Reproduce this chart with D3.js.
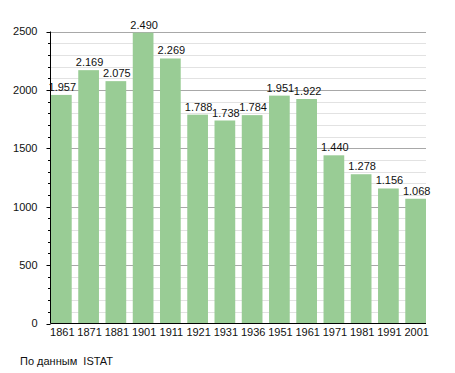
<!DOCTYPE html>
<html>
<head>
<meta charset="utf-8">
<script src="https://cdn.jsdelivr.net/npm/d3@7"></script>
<style>
  body { margin: 0; background: #fff; }
  svg text { font-family: "Liberation Sans", Arial, sans-serif; }
</style>
</head>
<body>
<div class="bar-chart-container"></div>
<script>
const years = ['1861','1871','1881','1901','1911','1921','1931','1936','1951','1961','1971','1981','1991','2001'];
const population = [1957, 2169, 2075, 2490, 2269, 1788, 1738, 1784, 1951, 1922, 1440, 1278, 1156, 1068];
const yTicks = [0, 500, 1000, 1500, 2000, 2500];
const sourceNote = 'По данным  ISTAT';

const fmt = d => d3.format(',')(d).replace(',', '.');

function setupCanvas(){
    const svg_width = 455;
    const svg_height = 373;
    const left = 50.5, right = 426, top = 31.5, bottom = 323.5;

    const svg = d3.select('.bar-chart-container')
                  .append('svg')
                  .attr('width', svg_width)
                  .attr('height', svg_height);

    const xScale = d3.scaleBand().domain(years).range([51, 426]).paddingInner(0.24).paddingOuter(0);
    const yScale = d3.scaleLinear().domain([0, 2500]).range([bottom, top]);

    // grid
    const minor = d3.range(100, 2501, 100).filter(v => v % 500 !== 0);
    svg.append('g').selectAll('line').data(minor).join('line')
       .attr('x1', left).attr('x2', right)
       .attr('y1', d=>Math.round(yScale(d))+0.5).attr('y2', d=>Math.round(yScale(d))+0.5)
       .style('stroke', '#e2e2e2').style('stroke-width', 1);
    svg.append('g').selectAll('line').data(yTicks.slice(1)).join('line')
       .attr('x1', left).attr('x2', right)
       .attr('y1', d=>Math.round(yScale(d))+0.5).attr('y2', d=>Math.round(yScale(d))+0.5)
       .style('stroke', '#a8a8a8').style('stroke-width', 1);

    // bars
    svg.append('g').selectAll('rect').data(population).join('rect')
       .attr('x', (d,i)=>xScale(years[i]))
       .attr('width', xScale.bandwidth())
       .attr('y', d=>yScale(d))
       .attr('height', d=>bottom - yScale(d))
       .style('fill', '#99cc95');

    // value labels
    svg.append('g').selectAll('text').data(population).join('text')
       .attr('x', (d,i)=>xScale(years[i]) + xScale.bandwidth()/2 + 1)
       .attr('y', d=>yScale(d) - 4)
       .attr('text-anchor', 'middle')
       .style('font-size', '11px')
       .style('fill', '#111')
       .text(d=>fmt(d));

    // y axis
    const yg = svg.append('g').attr('transform', `translate(${left},0)`);
    yg.selectAll('line.minor').data(d3.range(0, 2501, 100)).join('line')
      .attr('x1', d=> d % 500 === 0 ? -4 : -2.5).attr('x2', 0)
      .attr('y1', d=>Math.round(yScale(d))+0.5).attr('y2', d=>Math.round(yScale(d))+0.5)
      .style('stroke', '#000');
    yg.append('line').attr('x1', 0).attr('x2', 0).attr('y1', top).attr('y2', bottom)
      .style('stroke', '#000');
    yg.selectAll('text').data(yTicks).join('text')
      .attr('x', -13).attr('y', d=>yScale(d))
      .attr('dy', '0.35em')
      .attr('text-anchor', 'end')
      .style('font-size', '11px')
      .style('fill', '#111')
      .text(d=>d);

    // x axis
    const xAxis = d3.axisBottom(xScale).tickSize(0).tickPadding(5);
    const xg = svg.append('g').attr('transform', `translate(0,${bottom})`).call(xAxis);
    xg.select('.domain').remove();
    xg.selectAll('text').style('font-size', '11px').style('fill', '#111')
      .attr('font-family', null).attr('dx', '1');
    svg.append('line').attr('x1', left).attr('x2', right).attr('y1', bottom).attr('y2', bottom)
       .style('stroke', '#000');

    svg.append('text').attr('x', 20).attr('y', 365)
       .style('font-size', '11px').style('fill', '#111')
       .style('white-space', 'pre')
       .text(sourceNote);
}

setupCanvas();
</script>
</body>
</html>
